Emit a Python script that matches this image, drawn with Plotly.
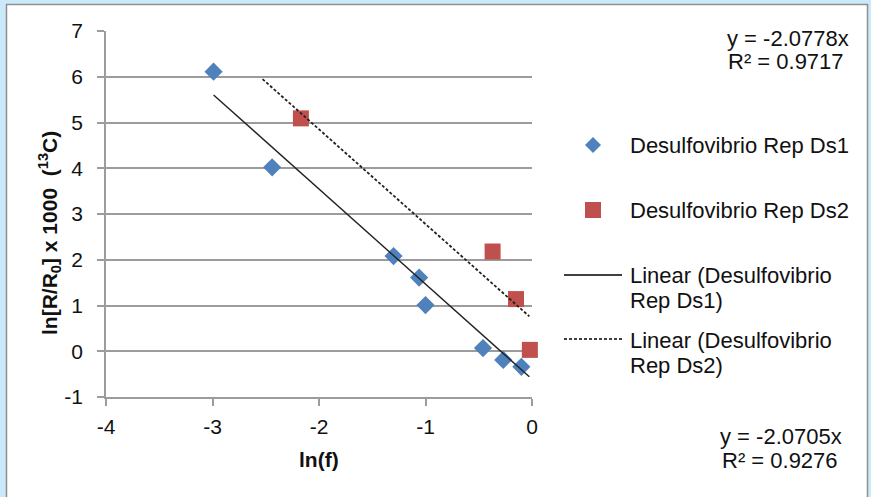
import plotly.graph_objects as go

# ---- data -------------------------------------------------------------
ds1_x = [-2.99, -2.44, -1.30, -1.06, -1.00, -0.46, -0.27, -0.10]
ds1_y = [6.11, 4.02, 2.08, 1.61, 1.01, 0.07, -0.19, -0.34]

ds2_x = [-2.17, -0.37, -0.15, -0.02]
ds2_y = [5.09, 2.18, 1.14, 0.03]

series_names = ["Desulfovibrio Rep Ds1", "Desulfovibrio Rep Ds2"]

# linear trendlines: slope, offset and drawn x-extent
trend_slope = [-2.0778, -2.0705]
trend_offset = [-0.61, 0.71]
trend_r2 = [0.9717, 0.9276]
trend_x_start = [-2.99, -2.53]
trend_x_end = [-0.025, -0.025]

x_ticks = [-4, -3, -2, -1, 0]
y_ticks = [-1, 0, 1, 2, 3, 4, 5, 6, 7]

# ---- layout geometry --------------------------------------------------
FIG_W, FIG_H = 871, 497
M_L, M_R, M_T, M_B = 106, 339, 31, 100
PLOT_W = FIG_W - M_L - M_R
PLOT_H = FIG_H - M_T - M_B


def px_x(px):
    return (px - M_L) / PLOT_W


def px_y(py):
    return (FIG_H - M_B - py) / PLOT_H


FONT = "Liberation Sans, Arial, sans-serif"
BLUE = "#4f81bd"
RED = "#c0504d"
GRID = "#9c9c9c"
TXT = "#111111"
LINE_C = "#222222"

fig = go.Figure()

fig.add_trace(go.Scatter(
    x=ds1_x, y=ds1_y, mode="markers", name=series_names[0],
    marker=dict(symbol="diamond", size=14, color=BLUE),
    cliponaxis=False,
))
fig.add_trace(go.Scatter(
    x=ds2_x, y=ds2_y, mode="markers", name=series_names[1],
    marker=dict(symbol="square", size=16, color=RED),
    cliponaxis=False,
))

dashes = ["solid", "3px,2px"]
widths = [1.4, 1.8]
for i in range(2):
    xs = [trend_x_start[i], trend_x_end[i]]
    ys = [trend_slope[i] * v + trend_offset[i] for v in xs]
    fig.add_trace(go.Scatter(
        x=xs, y=ys, mode="lines",
        name="Linear (" + series_names[i] + ")",
        line=dict(color=LINE_C, width=widths[i], dash=dashes[i]),
    ))

shapes = []
annotations = []

# white chart area framed on a light-blue surround
shapes.append(dict(
    type="rect", xref="paper", yref="paper", layer="below",
    x0=px_x(6.5), x1=px_x(867.5), y0=px_y(520), y1=px_y(4.5),
    fillcolor="white", line=dict(color="#8f8f8f", width=1.5),
))

# legend
LEG_SYM_X = 593
LEG_TXT_X = 628
leg_font = dict(family=FONT, size=22, color=TXT)

shapes.append(dict(
    type="path", xref="paper", yref="paper",
    xsizemode="pixel", ysizemode="pixel",
    xanchor=px_x(LEG_SYM_X), yanchor=px_y(145),
    path="M 0,8 L 8,0 L 0,-8 L -8,0 Z",
    fillcolor=BLUE, line=dict(width=0),
))
shapes.append(dict(
    type="path", xref="paper", yref="paper",
    xsizemode="pixel", ysizemode="pixel",
    xanchor=px_x(LEG_SYM_X), yanchor=px_y(210),
    path="M -8,-8 L 8,-8 L 8,8 L -8,8 Z",
    fillcolor=RED, line=dict(width=0),
))
for i, yy in enumerate([275, 339]):
    shapes.append(dict(
        type="line", xref="paper", yref="paper",
        x0=px_x(564), x1=px_x(622), y0=px_y(yy), y1=px_y(yy),
        line=dict(color="#000000", width=1.6 if i == 0 else 1.4,
                  dash="solid" if i == 0 else "3px,2px"),
    ))

legend_lines = [
    (series_names[0], 145),
    (series_names[1], 210),
    ("Linear (Desulfovibrio", 275),
    ("Rep Ds1)", 300),
    ("Linear (Desulfovibrio", 340),
    ("Rep Ds2)", 365),
]
for txt, yy in legend_lines:
    annotations.append(dict(
        text=txt, xref="paper", yref="paper",
        x=px_x(LEG_TXT_X), y=px_y(yy), xanchor="left", yanchor="middle",
        showarrow=False, font=leg_font,
    ))

# trendline equations
eq_pos = [((788, 38), (786, 62)), ((781, 436), (780, 460))]
for i in range(2):
    (ex, ey), (rx, ry) = eq_pos[i]
    annotations.append(dict(
        text=f"y = {trend_slope[i]:.4f}x", xref="paper", yref="paper",
        x=px_x(ex), y=px_y(ey), xanchor="center", yanchor="middle",
        showarrow=False, font=leg_font,
    ))
    annotations.append(dict(
        text=f"R\u00b2 = {trend_r2[i]:.4f}", xref="paper", yref="paper",
        x=px_x(rx), y=px_y(ry), xanchor="center", yanchor="middle",
        showarrow=False, font=leg_font,
    ))

# axis titles
annotations.append(dict(
    text="<b>ln(f)</b>", xref="paper", yref="paper",
    x=px_x(319), y=px_y(459), xanchor="center", yanchor="middle",
    showarrow=False, font=dict(family=FONT, size=21, color=TXT),
))
annotations.append(dict(
    text="<b>ln[R/R<sub>0</sub>] x 1000 \u00a0(<sup>13</sup>C)</b>",
    xref="paper", yref="paper", textangle=-90,
    x=px_x(50), y=px_y(233), xanchor="center", yanchor="middle",
    showarrow=False, font=dict(family=FONT, size=21, color=TXT),
))

tick_font = dict(family=FONT, size=21, color=TXT)

fig.update_layout(
    width=FIG_W, height=FIG_H,
    margin=dict(l=M_L, r=M_R, t=M_T, b=M_B, autoexpand=False),
    paper_bgcolor="#cce8fb",
    plot_bgcolor="rgba(0,0,0,0)",
    showlegend=False,
    shapes=shapes,
    annotations=annotations,
    xaxis=dict(
        range=[-4, 0], tickvals=x_ticks, ticktext=[str(v) for v in x_ticks],
        showgrid=False, zeroline=False, showline=True, linecolor=GRID,
        linewidth=1.6, ticks="outside", ticklen=7, tickcolor=GRID,
        tickwidth=1.6, tickfont=tick_font, ticklabelstandoff=3,
        automargin=False,
    ),
    yaxis=dict(
        range=[-1, 7], tickvals=y_ticks, ticktext=[str(v) for v in y_ticks],
        showgrid=True, gridcolor=GRID, gridwidth=1.6, zeroline=False,
        showline=True, linecolor=GRID, linewidth=1.6, ticks="outside",
        ticklen=7, tickcolor=GRID, tickwidth=1.6, tickfont=tick_font,
        ticklabelstandoff=10, automargin=False,
    ),
)

fig.write_html("out.html")
